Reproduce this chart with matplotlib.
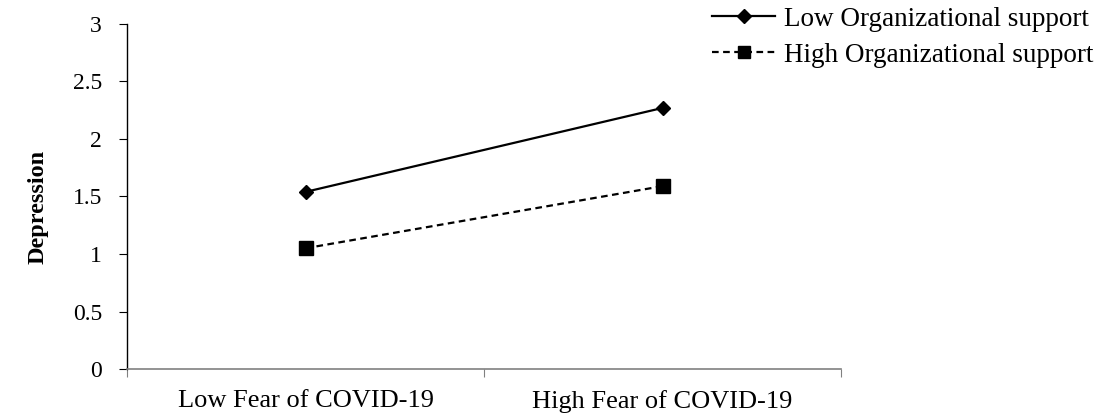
import matplotlib
matplotlib.use("Agg")
import matplotlib.pyplot as plt
from matplotlib.lines import Line2D

categories = ["Low Fear of COVID-19", "High Fear of COVID-19"]
low_support = [1.54, 2.27]
high_support = [1.05, 1.59]
series_names = ["Low Organizational support", "High Organizational support"]
y_ticks = [0, 0.5, 1, 1.5, 2, 2.5, 3]
y_tick_labels = ["0", "0.5", "1", "1.5", "2", "2.5", "3"]

plt.rcParams['font.family'] = ['Liberation Serif', 'DejaVu Serif']

W, H = 1102, 416
fig = plt.figure(figsize=(W/100, H/100), dpi=100)
ax = fig.add_axes([127/W, 1-369/H, (841-127)/W, (369-24)/H])

x = [0.5, 1.5]
ax.plot(x, low_support, color='black', lw=1.6, marker='D', markersize=7.5, label=series_names[0])
ax.plot(x, high_support, color='black', lw=1.6, ls=(0, (3, 2)), marker='s', markersize=10, label=series_names[1])

ax.set_xlim(0, 2)
ax.set_ylim(0, 3)
ax.set_yticks(y_ticks)
ax.set_yticklabels(y_tick_labels)
ax.set_xticks([0, 1, 2])
ax.set_xticklabels([])
ax.set_xticks(x, minor=True)
ax.set_xticklabels(categories, minor=True)
ax.tick_params(axis='x', which='minor', length=0, pad=15, labelsize=19)
ax.tick_params(axis='x', which='major', length=6, direction='out', color='#808080')
ax.tick_params(axis='y', length=6, direction='out', labelsize=17, pad=12)

for s in ['top', 'right']:
    ax.spines[s].set_visible(False)
ax.spines['bottom'].set_color('#808080')
ax.spines['bottom'].set_linewidth(1.2)
ax.spines['left'].set_linewidth(1.0)

ax.set_ylabel("Depression", fontsize=17.5, fontweight='bold')
ax.yaxis.set_label_coords(-0.11, 0.47)

handles = [
    Line2D([], [], color='black', lw=1.6, marker='D', markersize=7),
    Line2D([], [], color='black', lw=1.6, ls=(0, (3, 2)), marker='s', markersize=8),
]
fig.legend(handles, series_names, loc='upper left', bbox_to_anchor=(705/W, 1.0),
           frameon=False, fontsize=19.5, handlelength=2.35, handletextpad=0.3,
           labelspacing=0.4, borderaxespad=0.0, borderpad=0.25)

fig.savefig("out.png", dpi=100)
